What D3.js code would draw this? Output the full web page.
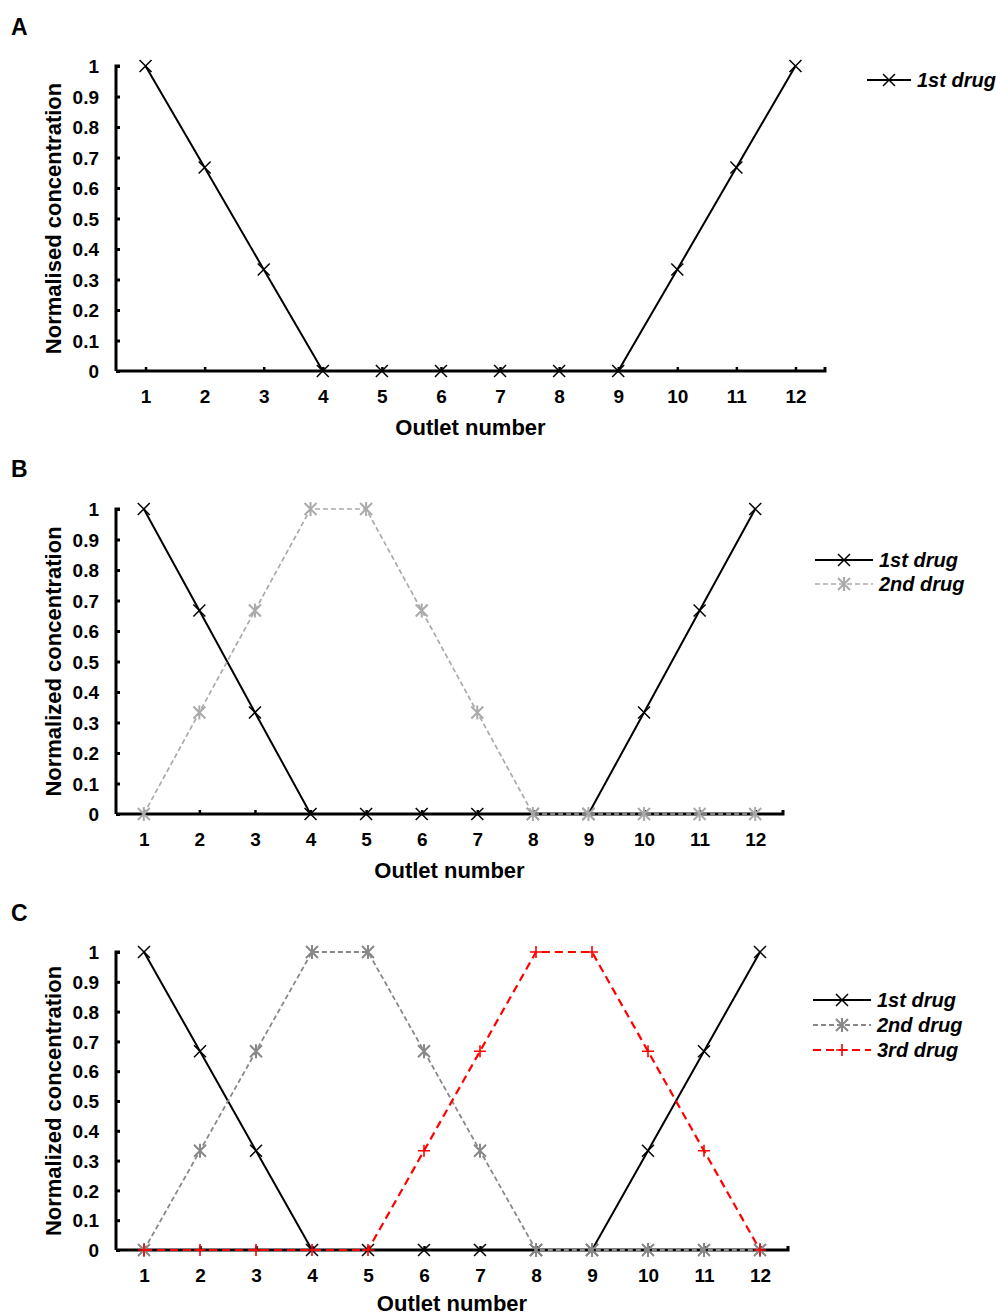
<!DOCTYPE html>
<html>
<head>
<meta charset="utf-8">
<script src="https://cdn.jsdelivr.net/npm/d3@7"></script>
<style>
  body { margin: 0; background: #fff; }
  text { font-family: "Liberation Sans", Arial, sans-serif; font-weight: bold; fill: #000; }
</style>
</head>
<body>
<svg id="chart" width="996" height="1316"></svg>
<script>
// outlet numbers
const outlets = [1, 2, 3, 4, 5, 6, 7, 8, 9, 10, 11, 12];
const yTicks = [0, 0.1, 0.2, 0.3, 0.4, 0.5, 0.6, 0.7, 0.8, 0.9, 1];

// normalised concentration per outlet
const drug1 = [1, 0.667, 0.333, 0, 0, 0, 0, 0, 0, 0.333, 0.667, 1];
const drug2 = [0, 0.333, 0.667, 1, 1, 0.667, 0.333, 0, 0, 0, 0, 0];
const drug3 = [0, 0, 0, 0, 0, 0.333, 0.667, 1, 1, 0.667, 0.333, 0];

const seriesNames = ["1st drug", "2nd drug", "3rd drug"];

const svg = d3.select("#chart");

// styles for each drug
const styles = {
  d1: { color: "#000", width: 2, dash: null, marker: "x" },
  d2light: { color: "#aaaaaa", width: 1.7, dash: "5,3", marker: "star" },
  d2dark: { color: "#888888", width: 1.8, dash: "5,3", marker: "star" },
  d3: { color: "#ff0000", width: 2.2, dash: "8,5", marker: "plus" }
};

function drawMarker(g, type, x, y, color) {
  const s = 6;
  if (type == "x" || type == "star") {
    g.append("path").attr("d", `M${x - s},${y - s}L${x + s},${y + s}M${x - s},${y + s}L${x + s},${y - s}`)
      .attr("stroke", color).attr("stroke-width", type == "star" ? 2 : 1.5).attr("fill", "none");
  }
  if (type == "star") {
    g.append("path").attr("d", `M${x},${y - s - 1}L${x},${y + s + 1}`)
      .attr("stroke", color).attr("stroke-width", 2);
  }
  if (type == "plus") {
    g.append("path").attr("d", `M${x - 6},${y}L${x + 6},${y}M${x},${y - 6}L${x},${y + 6}`)
      .attr("stroke", color).attr("stroke-width", 1.6);
  }
}

function drawPanel(p) {
  const g = svg.append("g");

  const x = d3.scaleLinear().domain([0.5, 12.5]).range([p.left, p.right]);
  const y = d3.scaleLinear().domain([0, 1]).range([p.bottom, p.top]);

  // panel letter
  g.append("text").attr("x", 11).attr("y", p.letterY).attr("font-size", 23).text(p.letter);

  // y axis, ticks inside
  const yAxis = g.append("g").attr("transform", translate(p.left, 0))
    .call(d3.axisRight(y).tickValues(yTicks).tickSize(4).tickFormat(d3.format("~g")));
  yAxis.select(".domain").attr("d", `M4,${p.top}H0V${p.bottom}`).attr("stroke-width", 3);
  yAxis.selectAll(".tick line").attr("stroke-width", 3);
  yAxis.selectAll(".tick text").attr("x", -17).attr("text-anchor", "end")
    .attr("font-size", 19).attr("dy", "0.35em");

  // x axis, ticks point up
  const xAxis = g.append("g").attr("transform", translate(0, p.bottom))
    .call(d3.axisTop(x).tickValues(outlets).tickSize(4));
  xAxis.select(".domain").attr("d", `M${p.left},0H${p.right}V-4`).attr("stroke-width", 3);
  xAxis.selectAll(".tick line").attr("stroke-width", 2.5);
  xAxis.selectAll(".tick text").attr("y", 25).attr("dy", "0.35em").attr("font-size", 19);

  // axis titles
  g.append("text").attr("x", (p.left + p.right) / 2).attr("y", p.bottom + p.titleGap)
    .attr("text-anchor", "middle").attr("font-size", 22).text("Outlet number");
  g.append("text")
    .attr("transform", `translate(61,${(p.top + p.bottom) / 2}) rotate(-90)`)
    .attr("text-anchor", "middle").attr("font-size", 22).text(p.yTitle);

  const line = d3.line().x((d, i) => x(outlets[i])).y(d => y(d));

  p.series.forEach(function(s, k) {
    const st = s.style;
    g.append("path").datum(s.values)
      .attr("d", line).attr("fill", "none")
      .attr("stroke", st.color).attr("stroke-width", st.width)
      .attr("stroke-dasharray", st.dash);
    const mg = g.append("g");
    s.values.forEach(function(v, i) {
      drawMarker(mg, st.marker, x(outlets[i]), y(v), st.color);
    });

    // legend entry
    const ly = p.legendY + k * p.legendGap;
    g.append("line").attr("x1", p.legendX1).attr("x2", p.legendX2).attr("y1", ly).attr("y2", ly)
      .attr("stroke", st.color).attr("stroke-width", st.width).attr("stroke-dasharray", st.dash);
    drawMarker(g, st.marker, (p.legendX1 + p.legendX2) / 2, ly, st.color);
    g.append("text").attr("x", p.legendX2 + 6).attr("y", ly).attr("dy", "0.35em")
      .attr("font-size", 20).attr("font-style", "italic").text(seriesNames[k]);
  });
}

drawPanel({
  letter: "A", letterY: 35, left: 116, right: 825, top: 66, bottom: 371, titleGap: 64,
  yTitle: "Normalised concentration",
  legendX1: 867, legendX2: 911, legendY: 80, legendGap: 25,
  series: [{ values: drug1, style: styles.d1 }]
});

drawPanel({
  letter: "B", letterY: 477, left: 116, right: 783, top: 509, bottom: 814, titleGap: 64,
  yTitle: "Normalized concentration",
  legendX1: 815, legendX2: 873, legendY: 560, legendGap: 24,
  series: [{ values: drug1, style: styles.d1 }, { values: drug2, style: styles.d2light }]
});

drawPanel({
  letter: "C", letterY: 921, left: 116, right: 788, top: 952, bottom: 1250, titleGap: 61,
  yTitle: "Normalized concentration",
  legendX1: 813, legendX2: 871, legendY: 1000, legendGap: 25,
  series: [{ values: drug1, style: styles.d1 }, { values: drug2, style: styles.d2dark },
           { values: drug3, style: styles.d3 }]
});

function translate(x, y) {
  return 'translate(' + x + ',' + y + ')';
}
</script>
</body>
</html>
